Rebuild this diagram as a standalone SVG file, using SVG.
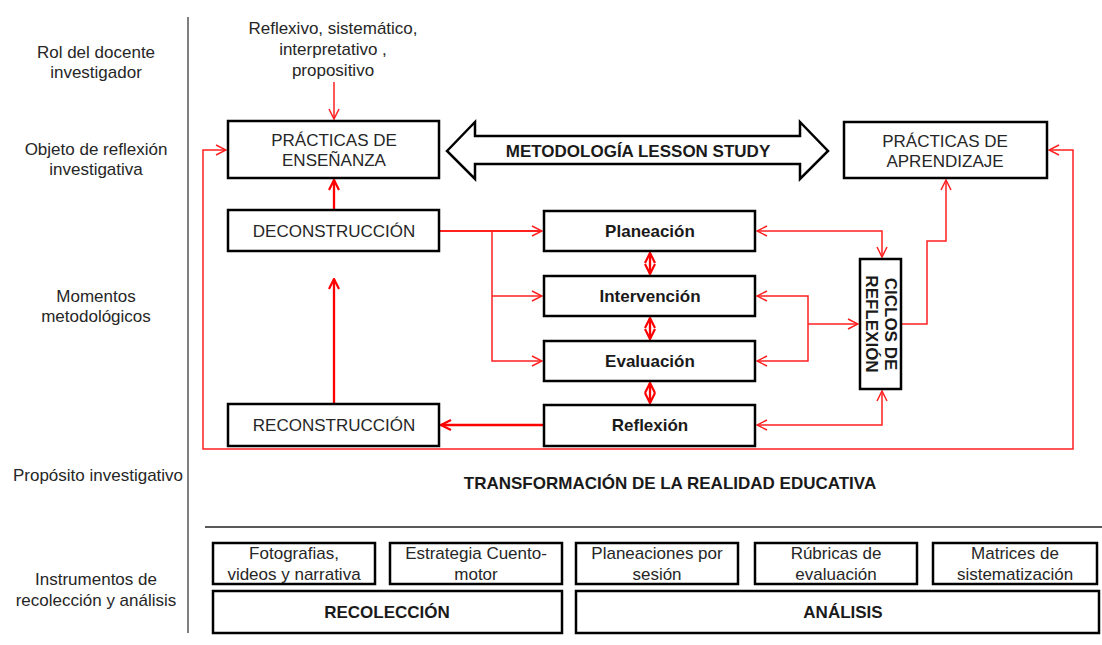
<svg xmlns="http://www.w3.org/2000/svg" width="1102" height="645" viewBox="0 0 1102 645">
<style>
text{font-family:"Liberation Sans",Arial,sans-serif;font-size:17px;fill:#262626;text-anchor:middle;dominant-baseline:central}
.b{font-weight:bold;fill:#1a1a1a}
.box{fill:#fff;stroke:#000;stroke-width:2.5}
.thin{fill:none;stroke:#ff2020;stroke-width:1.5}
.thick{fill:none;stroke:#ff0000;stroke-width:2.3}
</style>
<defs>
<marker id="a" viewBox="0 0 12 12" refX="11" refY="6" markerWidth="12" markerHeight="12" markerUnits="userSpaceOnUse" orient="auto-start-reverse">
<path d="M1,1 L11,6 L1,11" fill="none" stroke="#ff2020" stroke-width="1.5"/>
</marker>
<marker id="b" viewBox="0 0 12 12" refX="11" refY="6" markerWidth="12" markerHeight="12" markerUnits="userSpaceOnUse" orient="auto-start-reverse">
<path d="M1,1 L11,6 L1,11" fill="none" stroke="#ff0000" stroke-width="2.2"/>
</marker>
</defs>
<rect width="1102" height="645" fill="#fff"/>
<g id="labels">
<line x1="188" y1="17" x2="188" y2="633" stroke="#555" stroke-width="1.5"/>
<text x="96" y="52">Rol del docente</text>
<text x="96" y="72">investigador</text>
<text x="96" y="149">Objeto de reflexión</text>
<text x="96" y="169">investigativa</text>
<text x="96" y="296">Momentos</text>
<text x="96" y="316">metodológicos</text>
<text x="98" y="475">Propósito investigativo</text>
<text x="96" y="579">Instrumentos de</text>
<text x="96" y="600">recolección y análisis</text>
</g>
<g id="rol">
<text x="333" y="28">Reflexivo,  sistemático,</text>
<text x="333" y="49">interpretativo ,</text>
<text x="333" y="70">propositivo</text>
</g>
<g id="connectors">
<path class="thin" d="M334,82 V119" marker-end="url(#a)"/>
<path class="thick" d="M334,210 V180" marker-end="url(#b)"/>
<path class="thin" d="M440,231 H542" marker-end="url(#a)" style="stroke-width:1.8"/>
<path class="thin" d="M492,231 V361 H542" marker-end="url(#a)"/>
<path class="thin" d="M492,296 H542" marker-end="url(#a)"/>
<path class="thick" d="M650,253 V274" marker-start="url(#b)" marker-end="url(#b)"/>
<path class="thick" d="M650,318 V339" marker-start="url(#b)" marker-end="url(#b)"/>
<path class="thick" d="M650,383 V403" marker-start="url(#b)" marker-end="url(#b)"/>
<path class="thick" d="M544,425 H441" marker-end="url(#b)"/>
<path class="thick" d="M334,404 V279" marker-end="url(#b)"/>
<path class="thin" d="M757,231 H882 V257" marker-start="url(#a)" marker-end="url(#a)"/>
<path class="thin" d="M757,296 H808 V361 H757" marker-start="url(#a)" marker-end="url(#a)"/>
<path class="thin" d="M808,324 H858" marker-end="url(#a)"/>
<path class="thin" d="M757,425 H882 V391" marker-start="url(#a)" marker-end="url(#a)"/>
<path class="thin" d="M901,324 H927 V241 H946 V180" marker-end="url(#a)"/>
<path class="thin" d="M226,150 H203 V449 H1073 V150 H1049" marker-start="url(#a)" marker-end="url(#a)"/>
</g>
<g id="practicas-ensenanza">
<rect class="box" x="228" y="121" width="211" height="57"/>
<text x="334" y="140">PRÁCTICAS DE</text>
<text x="334" y="160">ENSEÑANZA</text>
</g>
<g id="lesson-study">
<polygon points="447,151 475,122 475,136 800,136 800,122 828,151 800,179 800,164 475,164 475,179" fill="#fff" stroke="#000" stroke-width="2.5"/>
<text class="b" x="638" y="151">METODOLOGÍA LESSON STUDY</text>
</g>
<g id="practicas-aprendizaje">
<rect class="box" x="844" y="122" width="203" height="56"/>
<text x="945" y="141">PRÁCTICAS DE</text>
<text x="945" y="161">APRENDIZAJE</text>
</g>
<g id="deconstruccion">
<rect class="box" x="228" y="210" width="211" height="41"/>
<text x="334" y="231">DECONSTRUCCIÓN</text>
</g>
<g id="reconstruccion">
<rect class="box" x="228" y="404" width="211" height="42"/>
<text x="334" y="425">RECONSTRUCCIÓN</text>
</g>
<g id="planeacion">
<rect class="box" x="544" y="211" width="211" height="40"/>
<text class="b" x="650" y="231">Planeación</text>
</g>
<g id="intervencion">
<rect class="box" x="544" y="276" width="211" height="40"/>
<text class="b" x="650" y="296">Intervención</text>
</g>
<g id="evaluacion">
<rect class="box" x="544" y="341" width="211" height="40"/>
<text class="b" x="650" y="361">Evaluación</text>
</g>
<g id="reflexion">
<rect class="box" x="544" y="405" width="211" height="41"/>
<text class="b" x="650" y="425">Reflexión</text>
</g>
<g id="ciclos">
<rect class="box" x="860" y="259" width="41" height="130"/>
<g transform="translate(880.5,324) rotate(90)">
<text class="b" x="0" y="-9.5">CICLOS DE</text>
<text class="b" x="0" y="9.5">REFLEXIÓN</text>
</g>
</g>
<g id="proposito">
<text class="b" x="670" y="483">TRANSFORMACIÓN DE LA REALIDAD EDUCATIVA</text>
<line x1="205" y1="527" x2="1102" y2="527" stroke="#222" stroke-width="1.5"/>
</g>
<g id="instrumentos">
<rect class="box" x="213" y="543" width="162" height="41"/>
<text x="294" y="553">Fotografias,</text>
<text x="294" y="574">videos y narrativa</text>
<rect class="box" x="390" y="543" width="172" height="41"/>
<text x="476" y="553">Estrategia Cuento-</text>
<text x="476" y="574">motor</text>
<rect class="box" x="576" y="543" width="162" height="41"/>
<text x="657" y="553">Planeaciones por</text>
<text x="657" y="574">sesión</text>
<rect class="box" x="755" y="543" width="162" height="41"/>
<text x="836" y="553">Rúbricas de</text>
<text x="836" y="574">evaluación</text>
<rect class="box" x="933" y="543" width="164" height="41"/>
<text x="1015" y="553">Matrices de</text>
<text x="1015" y="574">sistematización</text>
<rect class="box" x="213" y="591" width="349" height="42"/>
<text class="b" x="387" y="612">RECOLECCIÓN</text>
<rect class="box" x="576" y="591" width="523" height="42"/>
<text class="b" x="843" y="612">ANÁLISIS</text>
</g>
</svg>
